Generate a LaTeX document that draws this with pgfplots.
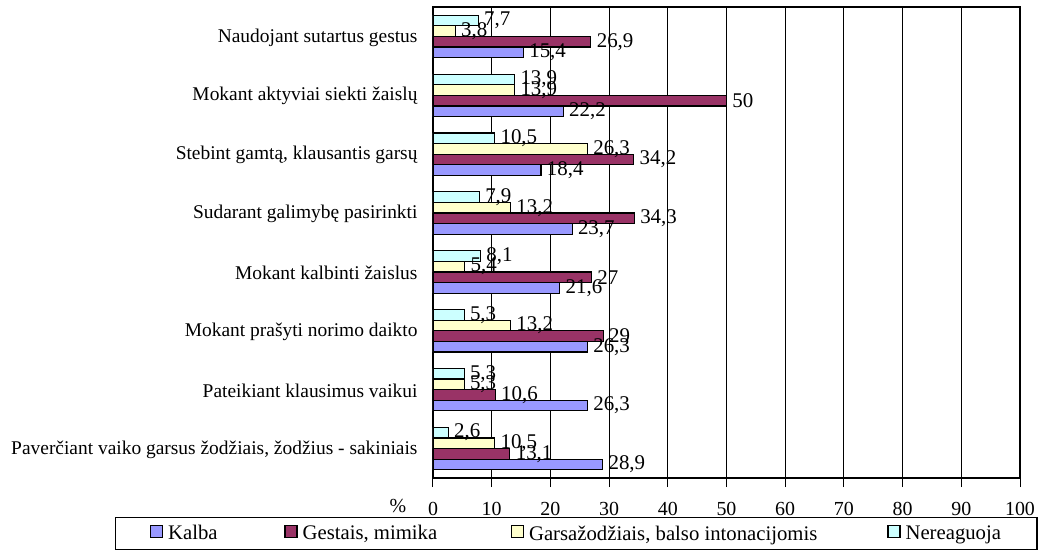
\documentclass[border=0pt]{standalone}
\usepackage{pgfplots}
\pgfplotsset{compat=1.18}
\usepackage{fontspec}
\setmainfont{Liberation Serif}
\definecolor{cKalba}{HTML}{9999FF}
\definecolor{cGest}{HTML}{993366}
\definecolor{cGars}{HTML}{FFFFCC}
\definecolor{cNer}{HTML}{CCFFFF}
\newcommand{\fcat}{\fontsize{19.5}{22}\selectfont}
\newcommand{\fdat}{\fontsize{21}{23}\selectfont}
\newcommand{\ftick}{\fontsize{20}{22}\selectfont}
\newcommand{\fleg}{\fontsize{20.8}{23}\selectfont}
\begin{document}
\begin{tikzpicture}
\begin{axis}[
  scale only axis,
  width=587bp, height=471bp,
  xbar,
  xmin=0, xmax=100,
  ymin=-0.5, ymax=7.5,
  xtick={0,10,...,100},
  xtick pos=left,
  tick align=outside,
  major tick length=9bp,
  ytick={0,1,2,3,4,5,6,7},
  ytick style={draw=none},
  yticklabels={{Paverčiant vaiko garsus žodžiais, žodžius - sakiniais},
               {Pateikiant klausimus vaikui},
               {Mokant prašyti norimo daikto},
               {Mokant kalbinti žaislus},
               {Sudarant galimybę pasirinkti},
               {Stebint gamtą, klausantis garsų},
               {Mokant aktyviai siekti žaislų},
               {Naudojant sutartus gestus}},
  yticklabel style={font=\fcat, anchor=east, xshift=-3bp, yshift=-1bp},
  xticklabel style={font=\ftick, yshift=-12bp},
  /pgf/number format/assume math mode=true,
  /pgf/number format/use comma,
  xmajorgrids,
  grid style={black, line width=0.8bp},
  axis line style={black, line width=1.2bp},
  every tick/.style={black, line width=1bp},
  bar width=0.18,
  nodes near coords,
  every node near coord/.append style={font=\fdat, anchor=west, xshift=2bp, black},
  legend columns=4,
  legend style={at={(axis description cs:-0.5417,-0.0828)}, anchor=north west,
    draw=black, line width=1.2bp, font=\fleg, inner xsep=34bp, inner ysep=6bp,
    /tikz/every even column/.append style={column sep=3bp}},
  legend image code/.code={\draw[#1, draw=black, line width=1.5bp] (0bp,-4bp) rectangle (12bp,8bp);},
]
\addplot[fill=cKalba, draw=black, line width=1.2bp, bar shift=-0.27] coordinates {
 (28.9,0) (26.3,1) (26.3,2) (21.6,3) (23.7,4) (18.4,5) (22.2,6) (15.4,7)};
\addplot[fill=cGest, draw=black, line width=1.2bp, bar shift=-0.09] coordinates {
 (13.1,0) (10.6,1) (29,2) (27,3) (34.3,4) (34.2,5) (50,6) (26.9,7)};
\addplot[fill=cGars, draw=black, line width=1.2bp, bar shift=0.09] coordinates {
 (10.5,0) (5.3,1) (13.2,2) (5.4,3) (13.2,4) (26.3,5) (13.9,6) (3.8,7)};
\addplot[fill=cNer, draw=black, line width=1.2bp, bar shift=0.27] coordinates {
 (2.6,0) (5.3,1) (5.3,2) (8.1,3) (7.9,4) (10.5,5) (13.9,6) (7.7,7)};
\legend{\makebox[114bp][l]{\hspace*{3bp}Kalba},\makebox[206bp][l]{\hspace*{3bp}Gestais, mimika},\makebox[356bp][l]{\hspace*{3bp}Garsažodžiais, balso intonacijomis},\hspace*{3bp}Nereaguoja}
\end{axis}
\node[font=\ftick, anchor=center] at (-35bp,-28bp) {\%};
\pgfresetboundingbox
\path (-433bp,-72bp) rectangle (607bp,478bp);
\end{tikzpicture}
\end{document}
